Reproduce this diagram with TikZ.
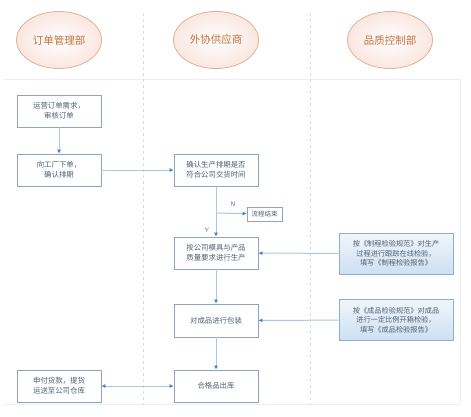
\documentclass[tikz,border=0pt]{standalone}
\usepackage{fontspec}
\usepackage{xcolor}
\usetikzlibrary{positioning,arrows.meta,shapes.geometric}
\newfontfamily\cjk{Noto Sans CJK SC}

\definecolor{boxline}{RGB}{140,165,192}
\definecolor{boxtext}{RGB}{80,95,115}
\definecolor{linkline}{RGB}{170,200,225}
\definecolor{tipblue}{RGB}{70,125,195}
\definecolor{headline}{RGB}{222,180,145}
\definecolor{headtext}{RGB}{195,115,60}
\definecolor{headfill}{RGB}{250,230,224}
\definecolor{qcfill}{RGB}{205,224,242}
\definecolor{qcline}{RGB}{140,175,208}
\definecolor{laneline}{RGB}{220,220,224}
\definecolor{frameline}{RGB}{236,238,243}

\tikzset{
  stepbox/.style = {draw=boxline, line width=0.8pt, fill=white, minimum width=84pt,
    minimum height=32pt, align=center, text=boxtext, font=\cjk\fontsize{7.4}{10}\selectfont},
  qcbox/.style = {draw=qcline, line width=0.8pt, top color=white!70!qcfill, bottom color=qcfill,
    minimum width=114pt, minimum height=41pt, align=center, text=boxtext,
    font=\cjk\fontsize{7.2}{9.6}\selectfont},
  dept/.style = {ellipse, draw=headline, line width=0.8pt, inner color=white, outer color=headfill,
    minimum width=85pt, minimum height=57pt, text=headtext, font=\cjk\fontsize{10.5}{12}\selectfont},
  link/.style = {draw=linkline, line width=1pt, -{Latex[length=4pt,width=4pt,color=tipblue]}},
  lbl/.style = {text=tipblue, font=\sffamily\fontsize{6.5}{7}\selectfont, inner sep=0pt}
}

\begin{document}
\begin{tikzpicture}[x=1pt, y=-1pt]
\useasboundingbox (0,0) rectangle (471,416);
\fill[white] (0,0) rectangle (471,416);

% frame and lanes
\draw[frameline, line width=0.6pt] (4,79) -- (460,79);
\draw[frameline, line width=0.6pt] (4,404) -- (460,404);
\draw[frameline, line width=0.6pt] (460,79) -- (460,404);
\draw[laneline, line width=0.8pt, dashed] (143,13) -- (143,405);
\draw[laneline, line width=0.8pt, dashed] (310,13) -- (310,405);

% departments
\node[dept] (deptorder) at (59,40) {订单管理部};
\node[dept] (deptsupply) at (216,40) {外协供应商};
\node[dept] (deptqc) at (390,40) {品质控制部};

% steps
\node[stepbox] (order) at (59,111) {运营订单需求，\\审核订单};
\node[stepbox] (confirm) at (59,170) {向工厂下单，\\确认排期};
\node[stepbox] (check) at (216,170) {确认生产排期是否\\符合公司交货时间};
\node[draw=boxline, line width=0.8pt, text=boxtext, font=\cjk\fontsize{6.5}{8}\selectfont,
  minimum width=35pt, minimum height=14pt, inner sep=1pt] (finish) at (264.5,214) {流程结束};
\node[stepbox] (produce) at (216,253) {按公司模具与产品\\质量要求进行生产};
\node[stepbox, minimum height=33pt] (pack) at (216,320.5) {对成品进行包装};
\node[stepbox] (outbound) at (216,386) {合格品出库};
\node[stepbox] (payment) at (59,386) {申付货款，提货\\运送至公司仓库};

% quality control
\node[qcbox] (qcprod) at (396,253.5) {按《制程检验规范》对生产\\过程进行跟踪在线检验，\\填写《制程检验报告》};
\node[qcbox] (qcpack) at (396,320) {按《成品检验规范》对成品\\进行一定比例开箱检验，\\填写《成品检验报告》};

% links
\draw[link] (order) -- (confirm);
\draw[link] (confirm) -- (check);
\draw[link] (check) -- (produce);
\coordinate (branch) at (216,213);
\draw[link] (branch) -- (finish);
\node[lbl] at (233,204) {N};
\node[lbl] at (207,230) {Y};
\draw[link] (produce) -- (pack);
\draw[link] (pack) -- (outbound);
\draw[link] (qcprod) -- (produce);
\draw[link] (qcpack) -- (pack);
\draw[link, {Latex[length=4pt,width=4pt,color=tipblue]}-{Latex[length=4pt,width=4pt,color=tipblue]}] (payment) -- (outbound);
\end{tikzpicture}
\end{document}
